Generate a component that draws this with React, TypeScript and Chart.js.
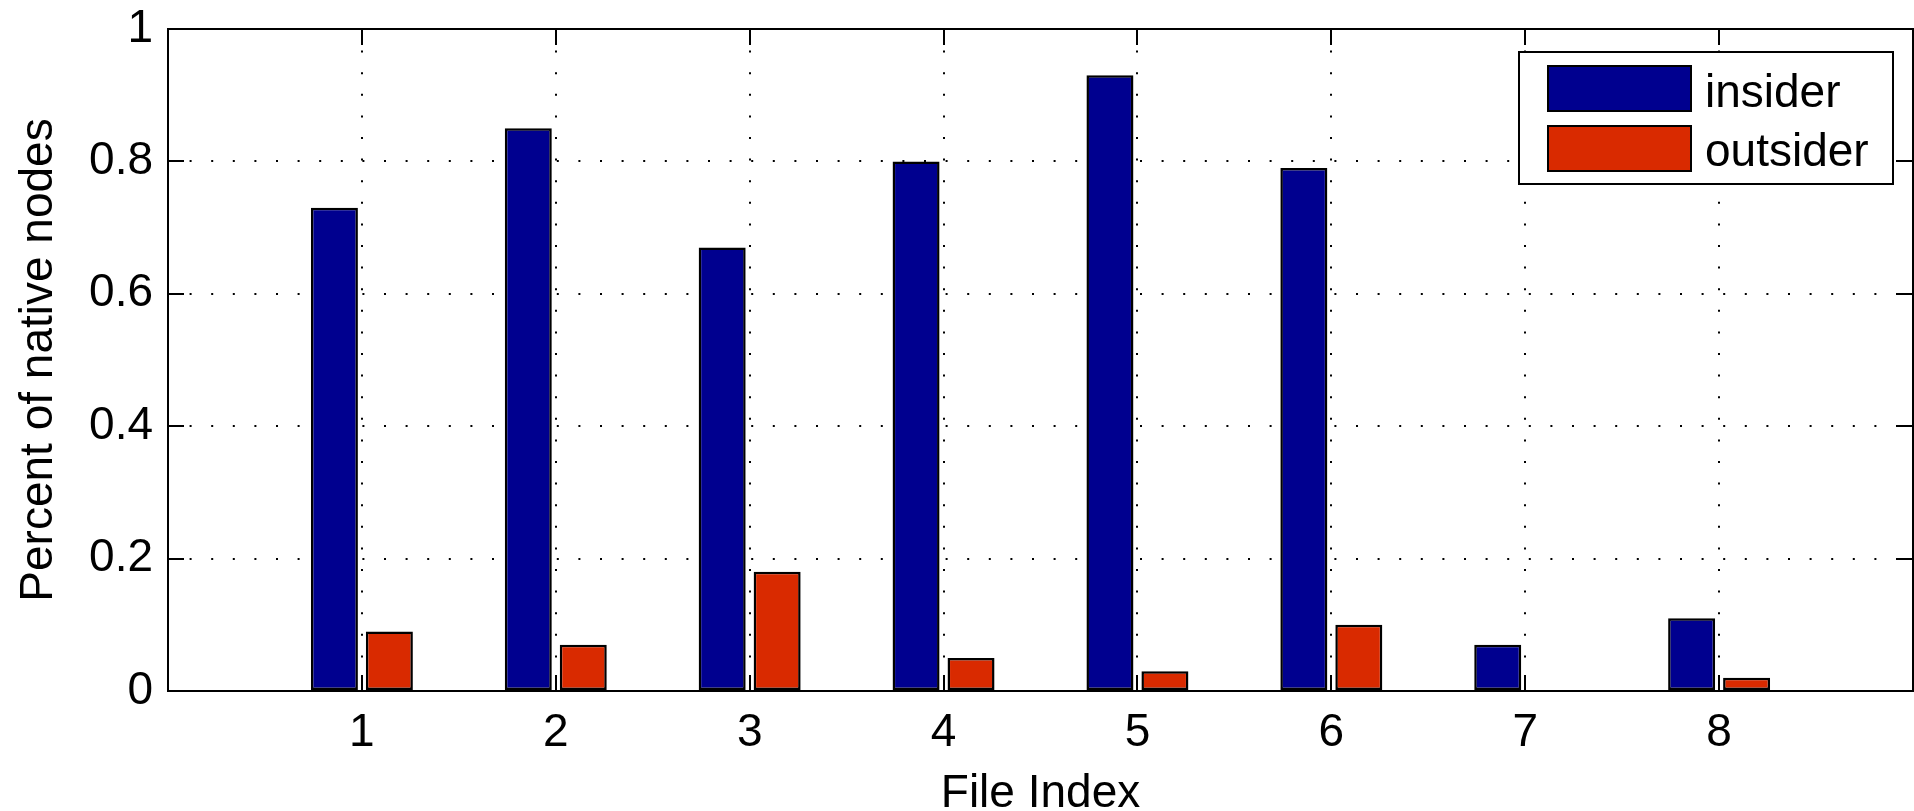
import React, { useEffect, useRef } from 'react';
import { Chart, registerables } from 'chart.js';

Chart.register(...registerables);

const categories = ['1', '2', '3', '4', '5', '6', '7', '8'];
const insider = [0.73, 0.85, 0.67, 0.8, 0.93, 0.79, 0.07, 0.11];
const outsider = [0.09, 0.07, 0.18, 0.05, 0.03, 0.1, 0, 0.02];
const yTicks = [0, 0.2, 0.4, 0.6, 0.8, 1];
const seriesNames = ['insider', 'outsider'];
const seriesColors = ['#00008F', '#D92A00'];

const FONT = '"Liberation Sans", Arial, Helvetica, sans-serif';

const framePlugin = {
  id: 'frame',
  afterDatasetsDraw(chart: any) {
    const { ctx, chartArea, scales } = chart;
    const { left, right, top, bottom } = chartArea;
    const x = scales.x;
    const y = scales.y;
    ctx.save();
    ctx.strokeStyle = '#000';
    ctx.lineWidth = 2;
    const tl = 16;
    ctx.beginPath();
    categories.forEach((_c, i) => {
      const px = Math.round(x.getPixelForValue(i + 1));
      ctx.moveTo(px, bottom);
      ctx.lineTo(px, bottom - tl);
      ctx.moveTo(px, top);
      ctx.lineTo(px, top + tl);
    });
    yTicks.forEach((v) => {
      const py = Math.round(y.getPixelForValue(v));
      ctx.moveTo(left, py);
      ctx.lineTo(left + tl, py);
      ctx.moveTo(right, py);
      ctx.lineTo(right - tl, py);
    });
    ctx.stroke();
    ctx.strokeRect(left, top, right - left, bottom - top);

    // legend
    const boxW = 374;
    const boxH = 132;
    const bx = right - 20 - boxW;
    const by = top + 23;
    ctx.fillStyle = '#fff';
    ctx.fillRect(bx, by, boxW, boxH);
    ctx.strokeRect(bx, by, boxW, boxH);
    ctx.font = '46px ' + FONT;
    ctx.textBaseline = 'alphabetic';
    ctx.textAlign = 'left';
    chart.data.datasets.forEach((ds: any, i: number) => {
      const sy = by + 14 + i * 60;
      ctx.fillStyle = ds.backgroundColor;
      ctx.fillRect(bx + 29, sy, 143, 45);
      ctx.strokeRect(bx + 29, sy, 143, 45);
      ctx.fillStyle = '#000';
      ctx.fillText(ds.label, bx + 186, by + 55 + i * 59);
    });
    ctx.restore();
  },
};

export default function App() {
  const ref = useRef<HTMLCanvasElement | null>(null);
  useEffect(() => {
    document.body.style.margin = '0';
    const labels = ['', ...categories, ''];
    const series = [insider, outsider];
    const chart = new Chart(ref.current as HTMLCanvasElement, {
      type: 'bar',
      data: {
        labels,
        datasets: series.map((vals, i) => ({
          label: seriesNames[i],
          data: [null, ...vals, null],
          backgroundColor: seriesColors[i],
          borderColor: '#000',
          borderWidth: 2.5,
          borderSkipped: false,
          categoryPercentage: 0.567,
          barPercentage: 0.855,
        })),
      },
      options: {
        animation: false,
        responsive: false,
        devicePixelRatio: 1,
        layout: { padding: { top: 29, right: 1, left: 0, bottom: 0 } },
        plugins: { legend: { display: false }, tooltip: { enabled: false } },
        scales: {
          x: {
            type: 'category',
            offset: false,
            afterFit: (s: any) => {
              s.height = 120;
              s.paddingLeft = 0;
              s.paddingRight = 0;
            },
            grid: {
              offset: false,
              display: true,
              drawTicks: false,
              color: '#000',
              lineWidth: 2,
            },
            border: { display: false, dash: [2, 19.6] },
            ticks: {
              autoSkip: false,
              maxRotation: 0,
              padding: 15,
              color: '#000',
              font: { family: FONT, size: 46 },
              callback: (_v: any, idx: number) => labels[idx],
            },
            title: {
              display: true,
              text: 'File Index',
              color: '#000',
              font: { family: FONT, size: 46, lineHeight: 0.65 },
              padding: { top: 0, bottom: 2 },
            },
          },
          y: {
            min: 0,
            max: 1,
            afterFit: (s: any) => {
              s.width = 168;
              s.paddingTop = 0;
              s.paddingBottom = 0;
            },
            afterBuildTicks: (s: any) => {
              s.ticks = yTicks.map((v) => ({ value: v }));
            },
            grid: {
              display: true,
              drawTicks: false,
              color: '#000',
              lineWidth: 2,
            },
            border: { display: false, dash: [2, 19.6] },
            ticks: {
              padding: 15,
              color: '#000',
              font: { family: FONT, size: 46 },
              callback: (v: any) => String(v),
            },
            title: {
              display: true,
              text: 'Percent of native nodes',
              color: '#000',
              font: { family: FONT, size: 46, lineHeight: 0.65 },
              padding: { top: 24, bottom: 0 },
            },
          },
        },
      },
      plugins: [framePlugin],
    } as any);
    return () => chart.destroy();
  }, []);
  return <canvas ref={ref} width={1914} height={811} style={{ display: 'block', width: 1914, height: 811 }} />;
}
